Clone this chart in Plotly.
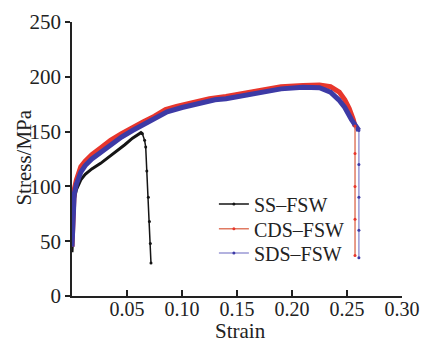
import plotly.graph_objects as go

# ---- data ----
ss_strain = [0, 0.001, 0.002, 0.004, 0.006, 0.008, 0.012, 0.018, 0.026, 0.034, 0.041, 0.048, 0.055, 0.060, 0.0627, 0.064, 0.066, 0.067, 0.068, 0.0694, 0.0704, 0.0712, 0.0718]
ss_stress = [40, 75, 88, 97, 102, 106, 111, 116, 121, 127, 133, 138, 144, 147, 149, 148, 142, 136, 114, 90, 68, 48, 30]

cds_strain = [0, 0.001, 0.002, 0.004, 0.006, 0.008, 0.012, 0.018, 0.026, 0.035, 0.045, 0.055, 0.065, 0.075, 0.085, 0.095, 0.11, 0.125, 0.14, 0.155, 0.17, 0.19, 0.21, 0.225, 0.235, 0.243, 0.248, 0.252, 0.2557, 0.2573, 0.2573, 0.2573, 0.2573, 0.2573]
cds_stress = [45, 85, 97, 106, 112, 118, 123, 129, 135, 142, 148, 154, 159, 164, 170, 173, 177, 180, 182, 185, 188, 191, 192, 192.5, 191, 186, 179, 171, 161, 155, 130, 100, 70, 37]

sds_strain = [0, 0.001, 0.002, 0.004, 0.006, 0.008, 0.012, 0.018, 0.026, 0.035, 0.045, 0.055, 0.065, 0.075, 0.0865, 0.1, 0.115, 0.13, 0.14, 0.155, 0.17, 0.19, 0.21, 0.225, 0.235, 0.2425, 0.248, 0.254, 0.2608, 0.2608, 0.2608, 0.2608, 0.2608]
sds_stress = [45, 80, 93, 102, 108, 113, 119, 125, 131, 138, 145, 151, 156, 161, 168, 172, 176, 179, 180, 183, 186, 189, 190.5, 190, 186, 179, 172, 161, 151, 120, 90, 60, 35]

# index where the fracture drop begins for each series
ss_drop = 15
cds_drop = 29
sds_drop = 28

names = ["SS\u2013FSW", "CDS\u2013FSW", "SDS\u2013FSW"]
x_ticks = [0.05, 0.10, 0.15, 0.20, 0.25, 0.30]
x_ticklabels = ["0.05", "0.10", "0.15", "0.20", "0.25", "0.30"]
y_ticks = [0, 50, 100, 150, 200, 250]
x_title = "Strain"
y_title = "Stress/MPa"

FONT = "Liberation Serif, Times New Roman, serif"
FS = 21
TFS = 20

fig = go.Figure()

series = [
    (ss_strain, ss_stress, ss_drop, names[0], "#151515", "#151515", 3, "legend"),
    (cds_strain, cds_stress, cds_drop, names[1], "#e8362c", "#e07a62", 5, "legend2"),
    (sds_strain, sds_stress, sds_drop, names[2], "#3d3aa6", "#9a98d4", 5, "legend3"),
]

# thick main curves (no legend)
for xs, ys, d, name, col, dcol, w, lg in series:
    fig.add_trace(go.Scatter(
        x=xs[:d + 1], y=ys[:d + 1], mode="lines",
        line=dict(color=col, width=w),
        showlegend=False, hoverinfo="skip"))

# thin fracture drops with dots, carry the legend entry
for xs, ys, d, name, col, dcol, w, lg in series:
    fig.add_trace(go.Scatter(
        x=xs[d:], y=ys[d:], mode="lines+markers", name=name,
        line=dict(color=dcol if name != names[0] else col, width=1.5),
        marker=dict(color=col, size=3),
        legend=lg))

leg_common = dict(xanchor="left", yanchor="middle", bgcolor="rgba(0,0,0,0)",
                  font=dict(family=FONT, size=20, color="#222"), itemwidth=30)

fig.update_layout(
    width=422, height=334,
    margin=dict(l=64, r=28, t=14, b=46, autoexpand=False),
    paper_bgcolor="white", plot_bgcolor="white",
    font=dict(family=FONT, size=FS, color="#222"),
    showlegend=True,
    legend=dict(x=0.43, y=0.336, **leg_common),
    legend2=dict(x=0.43, y=0.245, **leg_common),
    legend3=dict(x=0.43, y=0.157, **leg_common),
    xaxis=dict(range=[0, 0.30], tickvals=x_ticks, ticktext=x_ticklabels,
               ticks="inside", ticklen=6, tickwidth=1.5, tickcolor="#222",
               showline=True, linecolor="#222", linewidth=1.5, mirror=False,
               showgrid=False, zeroline=False, automargin=False,
               tickfont=dict(family=FONT, size=TFS, color="#222"),
               ticklabeloverflow="allow", ticklabelstandoff=-6),
    yaxis=dict(range=[0, 250], tickvals=y_ticks,
               ticks="outside", ticklen=5, tickwidth=1.5, tickcolor="#222",
               showline=True, linecolor="#222", linewidth=1.5, mirror=False,
               showgrid=False, zeroline=False, automargin=False,
               tickfont=dict(family=FONT, size=FS, color="#222"),
               ticklabeloverflow="allow"),
    annotations=[
        dict(text=x_title, xref="paper", yref="paper", x=0.51, y=-0.128,
             xanchor="center", yanchor="middle", showarrow=False,
             font=dict(family=FONT, size=FS, color="#222")),
        dict(text=y_title, xref="paper", yref="paper", x=-0.144, y=0.507,
             xanchor="center", yanchor="middle", textangle=-90, showarrow=False,
             font=dict(family=FONT, size=FS, color="#222")),
    ],
)

fig.write_html("out.html")
